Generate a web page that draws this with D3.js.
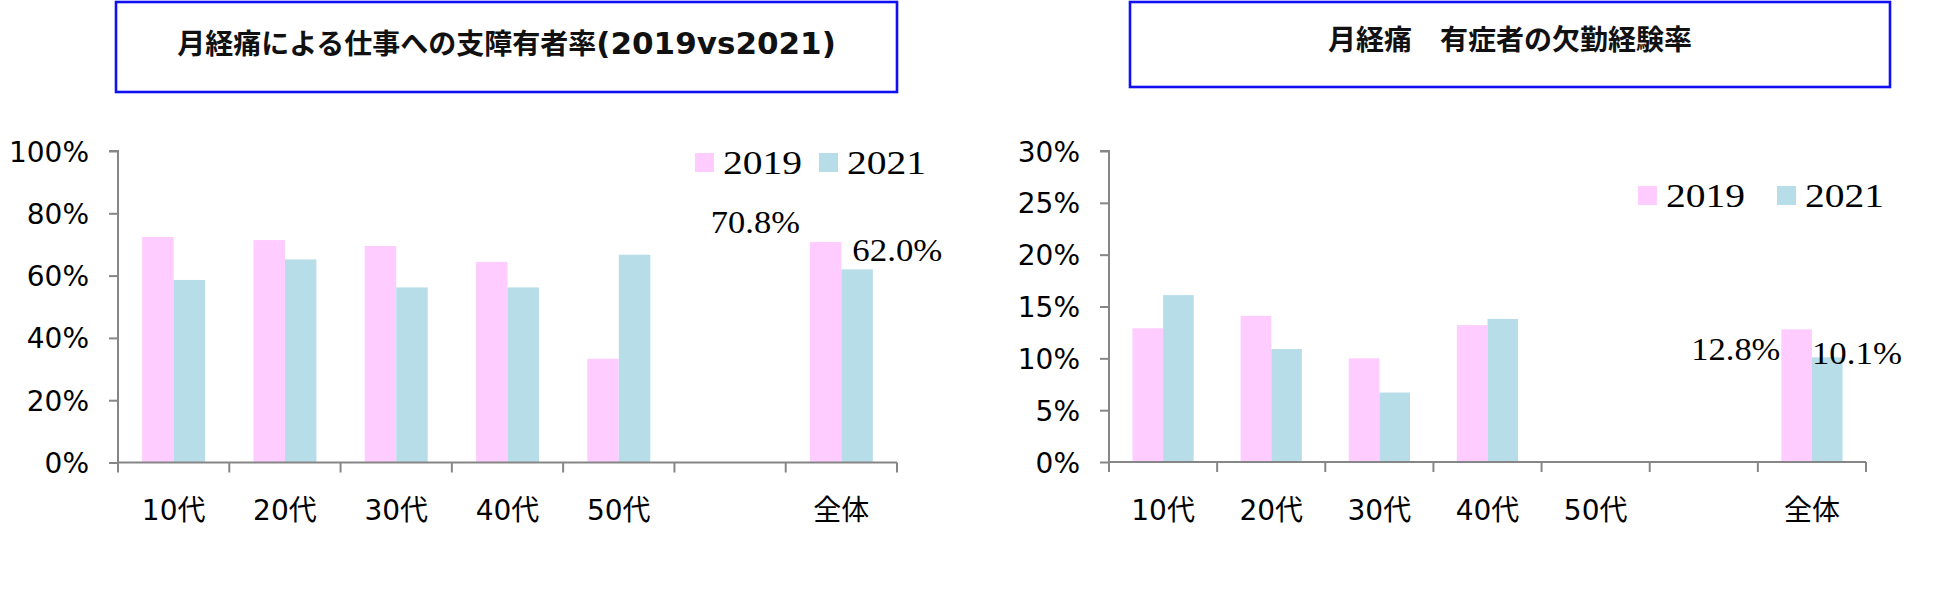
<!DOCTYPE html>
<html>
<head>
<meta charset="utf-8">
<script src="https://cdn.jsdelivr.net/npm/d3@7"></script>
<style>
  html, body { margin: 0; padding: 0; background: #ffffff; }
  svg { display: block; }
</style>
</head>
<body>
<script>
// ---- data ----
const categories = ["10代", "20代", "30代", "40代", "50代", "", "全体"];
const seriesNames = ["2019", "2021"];
const workImpact2019 = [72.4, 71.4, 69.5, 64.4, 33.3, null, 70.8];
const workImpact2021 = [58.6, 65.2, 56.2, 56.2, 66.7, null, 62.0];
const absence2019 = [12.9, 14.1, 10.0, 13.2, null, null, 12.8];
const absence2021 = [16.1, 10.9, 6.7, 13.8, null, null, 10.1];
const workTicks = [0, 20, 40, 60, 80, 100];
const absenceTicks = [0, 5, 10, 15, 20, 25, 30];
const workLabels = ["70.8%", "62.0%"];
const absenceLabels = ["12.8%", "10.1%"];
const titleWork = ["月経痛による仕事への支障有者率", "(2019vs2021)"];
const titleAbsence = "月経痛\u3000有症者の欠勤経験率";

// ---- styles ----
const colors = ["#FFCCFF", "#B7DEE8"];
const axisColor = "#868686";
const sansFont = "'DejaVu Sans', 'Noto Sans CJK JP', sans-serif";
const serifFont = "'Liberation Serif', serif";

const W = 1950, H = 591;
const svg = d3.select("body").append("svg").attr("width", W).attr("height", H);

function drawChart(cfg) {
  const g = svg.append("g");
  // title box
  g.append("rect")
    .attr("x", cfg.box[0]).attr("y", cfg.box[1])
    .attr("width", cfg.box[2]).attr("height", cfg.box[3])
    .attr("fill", "#fff").attr("stroke", "#1010F0").attr("stroke-width", 2.6);
  const t = g.append("text")
    .attr("x", cfg.box[0] + cfg.box[2] / 2).attr("y", cfg.titleY)
    .attr("text-anchor", "middle")
    .attr("font-family", sansFont).attr("font-weight", "bold")
    .attr("font-size", 28).attr("fill", "#111");
  if (Array.isArray(cfg.title)) {
    t.append("tspan").text(cfg.title[0]);
    t.append("tspan").attr("font-size", 31).text(cfg.title[1]);
  } else {
    t.text(cfg.title);
  }

  const x = d3.scaleBand().domain(categories).range([cfg.x0, cfg.x1]).paddingInner(0).paddingOuter(0);
  const y = d3.scaleLinear().domain([0, cfg.max]).range([cfg.y0, cfg.yTop]);
  const bw = x.bandwidth() * 0.283;

  // bars
  const sets = [cfg.s1, cfg.s2];
  sets.forEach((vals, si) => {
    g.append("g").selectAll("rect")
      .data(categories.map((c, i) => ({ c, v: vals[i] })).filter(d => d.v != null))
      .join("rect")
      .attr("x", d => x(d.c) + x.bandwidth() / 2 - bw + si * bw)
      .attr("y", d => y(d.v))
      .attr("width", bw)
      .attr("height", d => y(0) - y(d.v))
      .attr("fill", colors[si]);
  });

  // y axis
  const ya = g.append("g").attr("transform", `translate(${cfg.x0},0)`)
    .call(d3.axisLeft(y).tickValues(cfg.ticks).tickSize(9).tickPadding(20)
      .tickFormat(d => d + "%"));
  ya.select(".domain").attr("stroke", axisColor).attr("stroke-width", 2).attr("d", `M-9,${cfg.yTop}H0V${cfg.y0}`);
  ya.selectAll(".tick line").attr("stroke", axisColor).attr("stroke-width", 2);
  ya.selectAll(".tick text").attr("font-family", sansFont).attr("font-size", 28)
    .attr("fill", "#000").attr("dy", "0.36em");

  // x axis (ticks at category boundaries)
  const xa = g.append("g");
  xa.append("line").attr("x1", cfg.x0).attr("x2", cfg.x1).attr("y1", y(0)).attr("y2", y(0))
    .attr("stroke", axisColor).attr("stroke-width", 2);
  const bounds = categories.map(c => x(c)).concat([cfg.x1]);
  xa.selectAll("line.tk").data(bounds).join("line").attr("class", "tk")
    .attr("x1", d => d).attr("x2", d => d).attr("y1", y(0)).attr("y2", y(0) + 10)
    .attr("stroke", axisColor).attr("stroke-width", 2);
  xa.selectAll("text").data(categories).join("text")
    .attr("x", d => x(d) + x.bandwidth() / 2).attr("y", cfg.xLabelY)
    .attr("text-anchor", "middle").attr("font-family", sansFont).attr("font-size", 28)
    .attr("fill", "#000").text(d => d);

  // legend
  const lg = g.append("g");
  seriesNames.forEach((s, i) => {
    lg.append("rect").attr("x", cfg.legend[i][0]).attr("y", cfg.legendY - 19)
      .attr("width", 19).attr("height", 19).attr("fill", colors[i]);
    lg.append("text").attr("x", cfg.legend[i][0] + 28).attr("y", cfg.legendY + 2)
      .attr("font-family", serifFont).attr("font-size", 34).attr("fill", "#000")
      .attr("textLength", 79).attr("lengthAdjust", "spacingAndGlyphs").text(s);
  });

  // data labels on 全体
  const last = categories.length - 1;
  const c = categories[last];
  const cx = x(c) + x.bandwidth() / 2;
  g.append("text").attr("x", cx - bw + cfg.lab1[0]).attr("y", y(sets[0][last]) + cfg.lab1[1])
    .attr("text-anchor", "end").attr("font-family", serifFont).attr("font-size", 32)
    .attr("textLength", 89).attr("lengthAdjust", "spacingAndGlyphs")
    .attr("fill", "#000").text(cfg.labels[0]);
  g.append("text").attr("x", cx + cfg.lab2[0]).attr("y", y(sets[1][last]) + cfg.lab2[1])
    .attr("text-anchor", "start").attr("font-family", serifFont).attr("font-size", 32)
    .attr("textLength", 90).attr("lengthAdjust", "spacingAndGlyphs")
    .attr("fill", "#000").text(cfg.labels[1]);
}

drawChart({
  box: [116, 2, 781, 90], titleY: 54, title: titleWork,
  x0: 118, x1: 897, y0: 462.5, yTop: 151, max: 100, ticks: workTicks,
  s1: workImpact2019, s2: workImpact2021,
  xLabelY: 520, legend: [[695], [819]], legendY: 172,
  labels: workLabels, lab1: [-10, -9], lab2: [11, -8]
});

drawChart({
  box: [1130, 2, 760, 85], titleY: 50, title: titleAbsence,
  x0: 1109, x1: 1866, y0: 462, yTop: 151, max: 30, ticks: absenceTicks,
  s1: absence2019, s2: absence2021,
  xLabelY: 520, legend: [[1638], [1777]], legendY: 205,
  labels: absenceLabels, lab1: [-1, 31], lab2: [0, 7]
});
</script>
</body>
</html>
